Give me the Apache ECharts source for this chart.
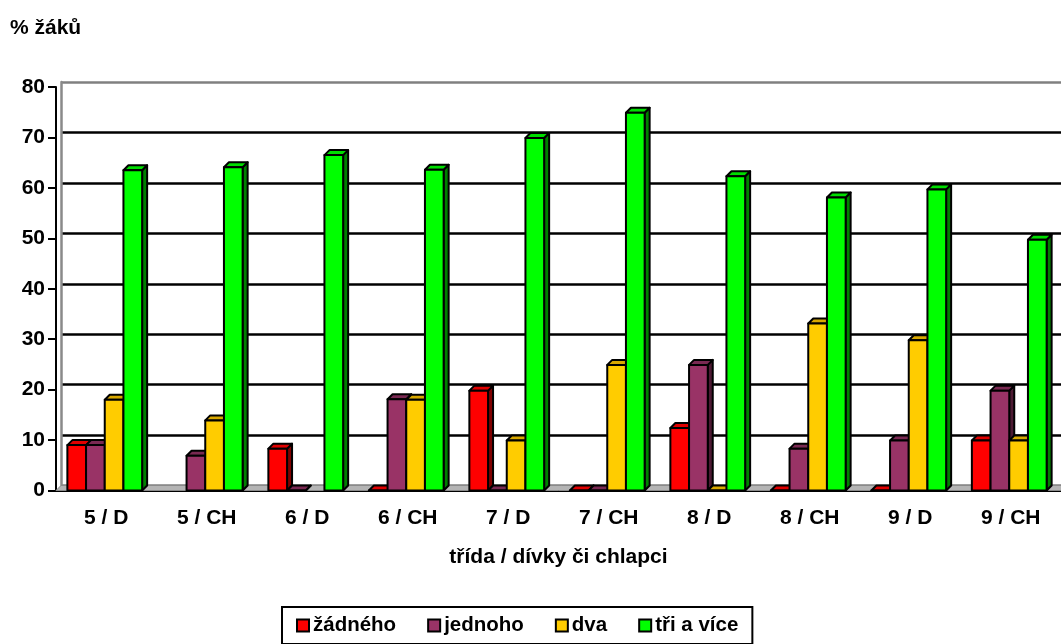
<!DOCTYPE html>
<html>
<head>
<meta charset="utf-8">
<script src="https://cdn.jsdelivr.net/npm/echarts@6/dist/echarts.min.js"></script>
<style>
html,body{margin:0;padding:0;background:#fff;}
#chart{width:1061px;height:644px;}
</style>
</head>
<body>
<div id="chart"></div>
<script>
var categories = ['5 / D', '5 / CH', '6 / D', '6 / CH', '7 / D', '7 / CH', '8 / D', '8 / CH', '9 / D', '9 / CH'];
var seriesNames = ['žádného', 'jednoho', 'dva', 'tři a více'];
var zadneho = [9, null, 8.3, 0, 19.8, 0, 12.4, 0, 0, 9.9];
var jednoho = [9, 6.9, 0, 18.1, 0, 0, 24.9, 8.3, 9.9, 19.8];
var dva = [18, 13.9, null, 18, 9.9, 24.9, 0, 33.1, 29.8, 9.9];
var triAVice = [63.5, 64.1, 66.5, 63.6, 69.9, 74.9, 62.3, 58.1, 59.7, 49.7];
var yTicks = [0, 10, 20, 30, 40, 50, 60, 70, 80];

var seriesValues = [zadneho, jednoho, dva, triAVice];
var frontColors = ['#ff0000', '#993366', '#ffcc00', '#00ff00'];
var topColors = ['#e00000', '#7a2952', '#d9a800', '#00dd00'];
var sideColors = ['#800000', '#4d1a33', '#806600', '#008000'];
var DEPTH = 5;
var FONT = 'Liberation Sans, Arial, sans-serif';

function makeRender(s) {
  return function (params, api) {
    var i = api.value(0);
    var v = api.value(1);
    if (v == null || isNaN(v)) return;
    var base = api.coord([i, 0]);
    var top = api.coord([i, v]);
    var cw = api.size([1, 0])[0];
    var bw = cw * 0.186;
    var x0 = base[0] - 2 * bw - 1.5 + s * bw;
    var x1 = x0 + bw;
    var ty = top[1], by = base[1], d = DEPTH;
    var st = {stroke: '#000', lineWidth: 2, lineJoin: 'round'};
    return {
      type: 'group',
      children: [
        {type: 'polygon', shape: {points: [[x1, ty], [x1 + d, ty - d], [x1 + d, by - d], [x1, by]]},
         style: Object.assign({fill: sideColors[s]}, st)},
        {type: 'polygon', shape: {points: [[x0, ty], [x0 + d, ty - d], [x1 + d, ty - d], [x1, ty]]},
         style: Object.assign({fill: topColors[s]}, st)},
        {type: 'rect', shape: {x: x0, y: ty, width: bw, height: by - ty},
         style: Object.assign({fill: frontColors[s]}, st)}
      ]
    };
  };
}

var series = seriesValues.map(function (vals, s) {
  return {
    type: 'custom',
    name: seriesNames[s],
    xAxisIndex: 0,
    yAxisIndex: 0,
    clip: false,
    z: 5 + s,
    itemStyle: {color: frontColors[s], borderColor: '#000', borderWidth: 2},
    renderItem: makeRender(s),
    encode: {x: 0, y: 1},
    data: vals.map(function (v, i) { return [i, v == null ? '-' : v]; })
  };
});

var chart = echarts.init(document.getElementById('chart'), null, {renderer: 'canvas'});
var splitColors = yTicks.map(function (t, k) { return (k === 0 || k === yTicks.length - 1) ? '#808080' : '#000'; });

chart.setOption({
  backgroundColor: '#fff',
  animation: false,
  title: {
    text: '% žáků', left: 10, top: 18, padding: 0,
    textStyle: {fontFamily: FONT, fontSize: 21, fontWeight: 'bold', color: '#000'}
  },
  legend: {
    data: seriesNames,
    left: 282, top: 607,
    padding: [8, 14, 8, 14],
    borderColor: '#000', borderWidth: 2,
    itemWidth: 12, itemHeight: 12, itemGap: 31,
    icon: 'rect',
    textStyle: {fontFamily: FONT, fontSize: 20.5, fontWeight: 'bold', color: '#000', padding: [0, 0, 0, -1]}
  },
  grid: [
    {left: 56, top: 87, width: 1006, height: 403.5},
    {left: 56 + DEPTH, top: 87 - DEPTH, width: 1006, height: 403.5}
  ],
  xAxis: [
    {
      type: 'category', gridIndex: 0, data: categories,
      axisLine: {lineStyle: {color: '#000', width: 2}},
      axisTick: {length: 7, lineStyle: {color: '#000', width: 2}},
      axisLabel: {fontFamily: FONT, fontSize: 21, fontWeight: 'bold', color: '#000', margin: 17},
      name: 'třída / dívky či chlapci', nameLocation: 'middle', nameGap: 56,
      nameTextStyle: {fontFamily: FONT, fontSize: 21, fontWeight: 'bold', color: '#000'}
    },
    {type: 'category', gridIndex: 1, data: categories, show: false}
  ],
  yAxis: [
    {
      type: 'value', gridIndex: 0, min: 0, max: 80, interval: 10,
      axisLine: {show: true, lineStyle: {color: '#000', width: 2}},
      axisTick: {show: true, length: 8, lineStyle: {color: '#000', width: 2}},
      axisLabel: {fontFamily: FONT, fontSize: 21, fontWeight: 'bold', color: '#000', margin: 11},
      splitLine: {show: false}
    },
    {
      type: 'value', gridIndex: 1, min: 0, max: 80, interval: 10,
      axisLine: {show: true, lineStyle: {color: '#8a8a8a', width: 2.5}},
      axisTick: {show: false}, axisLabel: {show: false},
      splitLine: {show: true, lineStyle: {color: splitColors, width: 2.5}}
    }
  ],
  series: series
});

// floor band between front axis and back wall (computed from the grid rectangle)
var rect = chart.getModel().getComponent('grid', 0).coordinateSystem.getRect();
var bx = rect.x, byy = rect.y + rect.height, w = rect.width;
chart.setOption({
  graphic: [{
    type: 'polygon', z: 1,
    shape: {points: [[bx, byy], [bx + DEPTH, byy - DEPTH], [bx + w + DEPTH, byy - DEPTH], [bx + w, byy]]},
    style: {fill: '#b4b4b4', stroke: '#8a8a8a', lineWidth: 1}
  }]
});
</script>
</body>
</html>
